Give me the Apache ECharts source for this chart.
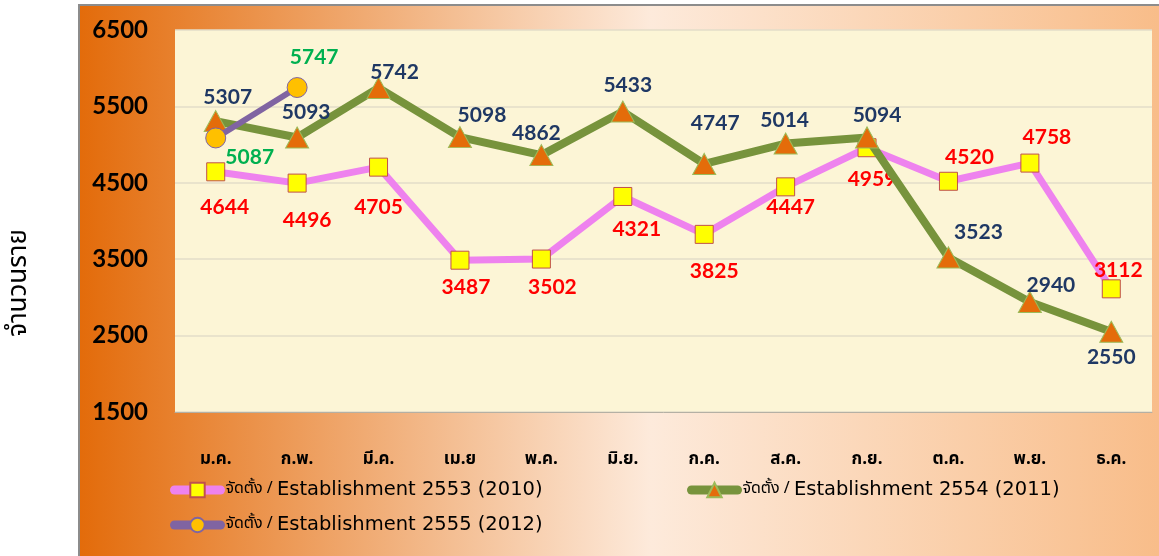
<!DOCTYPE html>
<html>
<head>
<meta charset="utf-8">
<title>จำนวนราย</title>
<script src="https://cdn.jsdelivr.net/npm/echarts@6/dist/echarts.min.js"></script>
<style>
  html, body { margin: 0; padding: 0; background: #fff; }
  #chart { width: 1159px; height: 556px; }
</style>
</head>
<body>
<div id="chart"></div>
<script>
// data
const months = ['ม.ค.', 'ก.พ.', 'มี.ค.', 'เม.ย', 'พ.ค.', 'มิ.ย.', 'ก.ค.', 'ส.ค.', 'ก.ย.', 'ต.ค.', 'พ.ย.', 'ธ.ค.']
const est2553 = [4644, 4496, 4705, 3487, 3502, 4321, 3825, 4447, 4959, 4520, 4758, 3112]
const est2554 = [5307, 5093, 5742, 5098, 4862, 5433, 4747, 5014, 5094, 3523, 2940, 2550]
const est2555 = [5087, 5747]
const seriesNames = ['2553 (2010)', '2554 (2011)', '2555 (2012)']

// label offsets from the marker centre [dx, dy]
const off2553 = [[9, 35], [10, 37], [0, 40], [6, 27], [11, 28], [14, 33], [10, 37], [5, 20], [5, 32], [21, -24], [17, -26], [7, -19]]
const off2554 = [[12, -24], [9, -25], [16, -16], [22, -22], [-5, -22], [5, -26], [11, -41], [-1, -23], [10, -22], [30, -25], [21, -17], [0, 25]]
const off2555 = [[34, 19], [17, -30]]

const numFont = 'Lato, "Open Sans", sans-serif'
const thaiFont = '"Noto Sans Thai", "Tahoma", "DejaVu Sans", sans-serif'

const withLabels = (values, offsets) => values.map((v, i) => ({
  value: v,
  label: { offset: offsets[i] }
}))

const labelBase = (color) => ({
  show: true,
  position: 'inside',
  color: color,
  fontFamily: numFont,
  fontWeight: 'bold',
  fontSize: 21
})

const legendText = {
  rich: {
    th: { fontFamily: thaiFont, fontSize: 16, color: '#000' },
    en: { fontFamily: '"DejaVu Sans", sans-serif', fontSize: 19.5, color: '#000' }
  }
}
const legendLabel = name => '{th|จัดตั้ง / }{en|Establishment ' + name.slice(3) + '}'

const chart = echarts.init(document.getElementById('chart'))
chart.setOption({
  animation: false,
  backgroundColor: '#fff',
  graphic: [
    {
      type: 'rect',
      z: -10,
      shape: { x: 79, y: 5, width: 1100, height: 600 },
      style: {
        stroke: '#8c8c8c',
        lineWidth: 2,
        fill: new echarts.graphic.LinearGradient(0, 0, 1, 0, [
          { offset: 0, color: '#E36B0A' },
          { offset: 0.52, color: '#FDEADB' },
          { offset: 1, color: '#F8BB86' }
        ])
      }
    },
    {
      type: 'text',
      x: 21,
      y: 283,
      rotation: Math.PI / 2,
      style: {
        text: 'จำนวนราย',
        fontFamily: thaiFont,
        fontSize: 26,
        fill: '#000',
        align: 'center',
        verticalAlign: 'middle'
      }
    }
  ],
  grid: {
    left: 175,
    right: 7,
    top: 30,
    bottom: 144,
    show: true,
    backgroundColor: '#FCF5D6',
    borderWidth: 0
  },
  legend: [
    {
      data: ['est' + seriesNames[0], 'est' + seriesNames[2]],
      orient: 'vertical',
      left: 170,
      top: 480,
      padding: 0,
      itemWidth: 46,
      itemHeight: 18,
      itemGap: 15,
      lineStyle: { width: 9, cap: 'round' },
      formatter: legendLabel,
      textStyle: legendText
    },
    {
      data: ['est' + seriesNames[1]],
      orient: 'vertical',
      left: 687,
      top: 480,
      padding: 0,
      itemWidth: 46,
      itemHeight: 18,
      lineStyle: { width: 9, cap: 'round' },
      formatter: legendLabel,
      textStyle: legendText
    }
  ],
  xAxis: {
    type: 'category',
    data: months,
    axisLine: { lineStyle: { color: '#b4b0a4', width: 1 } },
    axisTick: { show: false },
    axisLabel: {
      margin: 40,
      color: '#000',
      fontFamily: thaiFont,
      fontWeight: 'bold',
      fontSize: 17
    }
  },
  yAxis: {
    type: 'value',
    min: 1500,
    max: 6500,
    interval: 1000,
    axisLine: { show: false },
    axisTick: { show: false },
    splitLine: { lineStyle: { color: '#E3DDC8', width: 1.5 } },
    axisLabel: {
      margin: 27,
      color: '#000',
      fontFamily: numFont,
      fontWeight: 'bold',
      fontSize: 24,
      formatter: v => String(v)
    }
  },
  series: [
    {
      name: 'est' + seriesNames[0],
      type: 'line',
      data: withLabels(est2553, off2553),
      symbol: 'rect',
      symbolSize: 18,
      lineStyle: { color: '#EE82EE', width: 7 },
      itemStyle: { color: '#FFFF00', borderColor: '#C0504D', borderWidth: 1 },
      label: labelBase('#FF0000'),
      z: 2
    },
    {
      name: 'est' + seriesNames[1],
      type: 'line',
      data: withLabels(est2554, off2554),
      symbol: 'triangle',
      symbolSize: [23, 21],
      lineStyle: { color: '#77933C', width: 8 },
      itemStyle: { color: '#E46C0A', borderColor: '#9BBB59', borderWidth: 1 },
      label: labelBase('#1F3864'),
      z: 3
    },
    {
      name: 'est' + seriesNames[2],
      type: 'line',
      data: withLabels(est2555, off2555),
      symbol: 'circle',
      symbolSize: 20,
      lineStyle: { color: '#8064A2', width: 6 },
      itemStyle: { color: '#FFC000', borderColor: '#8064A2', borderWidth: 1 },
      label: labelBase('#00B050'),
      z: 4
    }
  ]
})
</script>
</body>
</html>
